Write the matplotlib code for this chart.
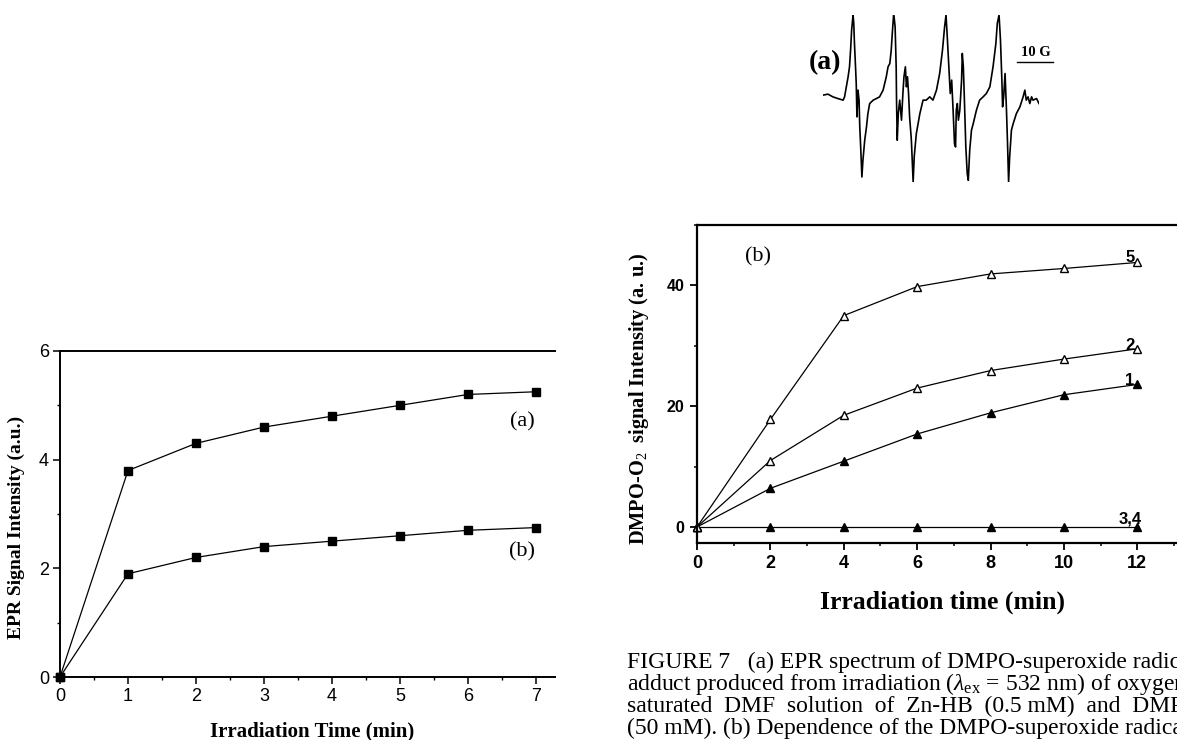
import numpy as np
import matplotlib
matplotlib.use('Agg')
from matplotlib import pyplot as plt
from matplotlib.ticker import MultipleLocator

plt.rcParams['mathtext.fontset'] = 'custom'
plt.rcParams['mathtext.rm'] = 'Liberation Serif'
plt.rcParams['mathtext.it'] = 'Liberation Serif:italic'
plt.rcParams['mathtext.bf'] = 'Liberation Serif:bold'

SERIF = 'Liberation Serif'
SANS = 'Liberation Sans'

# EPR signal vs irradiation time, two samples
epr_time = [0, 1, 2, 3, 4, 5, 6, 7]
epr_a = [0, 3.8, 4.3, 4.6, 4.8, 5.0, 5.2, 5.25]
epr_b = [0, 1.9, 2.2, 2.4, 2.5, 2.6, 2.7, 2.75]

# DMPO-O2 adduct intensity vs irradiation time
dmpo_time = [0, 2, 4, 6, 8, 10, 12]
dmpo_1 = [0, 6.4, 10.9, 15.4, 18.9, 21.9, 23.6]
dmpo_2 = [0, 11.0, 18.5, 23.0, 25.9, 27.8, 29.5]
dmpo_34 = [0, 0, 0, 0, 0, 0, 0]
dmpo_5 = [0, 17.8, 35.0, 39.8, 41.9, 42.8, 43.8]

# EPR spectrum trace of the DMPO-superoxide adduct (field in G, signal a.u.)
field_G = [0.0, 1.4, 2.8, 4.2, 5.7, 6.1, 6.6, 7.1, 7.5, 7.8, 8.1, 8.5, 8.7, 8.9,
           9.2, 9.4, 9.6, 9.9, 10.2, 10.4, 10.7, 11.0, 11.3, 11.8, 12.3, 12.7,
           13.2, 14.2, 15.1, 16.0, 17.0, 17.9, 18.4, 18.9, 19.3, 19.6, 20.0,
           20.4, 20.7, 20.8, 21.0, 21.3, 21.7, 22.2, 22.6, 22.9, 23.3, 23.6,
           23.9, 24.2, 24.5, 25.0, 25.5, 25.8, 26.4, 27.4, 28.3, 29.2, 30.2,
           31.1, 32.1, 33.0, 33.8, 34.4, 34.8, 35.2, 35.6, 36.0, 36.4, 36.8,
           37.2, 37.5, 37.7, 38.0, 38.3, 38.7, 39.2, 39.4, 39.7, 40.0, 40.4,
           40.8, 41.1, 41.5, 42.0, 42.5, 43.4, 44.3, 45.3, 46.2, 47.2, 48.1,
           48.9, 49.3, 49.8, 50.2, 50.6, 50.8, 51.1, 51.5, 51.9, 52.2, 52.5,
           52.8, 53.3, 53.8, 54.7, 55.7, 56.6, 57.1, 57.5, 58.0, 58.5, 59.0,
           59.4, 60.4, 61.1]
signal = [1.7, 2.7, 0, -1.7, -3.3, 0, 10, 20, 30, 46.7, 66.7, 81.7, 73.3, 53.3,
          30, 13.3, -20, 6.7, -3.3, -30, -53.3, -80, -63.3, -43.3, -30, -16.7,
          -6.7, -3.3, -1.7, 0, 6.7, 20, 30, 33.3, 46.7, 63.3, 83.3,
          70, 30, -3.3, -43.3, -16.7, -3.3, -23.3, 3.3, 20, 30, 10,
          20, 3.3, -20, -43.3, -85, -60, -36.7, -16.7, -3.3, -3.3, 0,
          -3.3, 6.7, 23.3, 46.7, 70, 81.7, 56.7, 30, 3.3, 16.7, -13.3,
          -46.7, -50, -13.3, -6.7, -23.3, -13.3, 16.7, 43.3, 30, -3.3, -50,
          -76.7, -83.3, -53.3, -33.3, -26.7, -13.3, -3.3, 0, 3.3, 10, 30,
          53.3, 73.3, 81.7, 56.7, 16.7, -10, 0, 23.3, -13.3, -46.7, -85,
          -60, -33.3, -26.7, -16.7, -10, 0, 6.7, -3.3, 0, -6.7, 0,
          -3.3, -1.7, -6.7]

W, H = 1177, 740
fig = plt.figure(figsize=(W / 100, H / 100), dpi=100)


def box(x0, y0, x1, y1):
    # pixel box (top-left origin) -> figure fraction rect
    return [x0 / W, 1 - y1 / H, (x1 - x0) / W, (y1 - y0) / H]


# ---- left panel: EPR signal intensity
ax1 = fig.add_axes(box(60, 351, 555, 677))
ax1.plot(epr_time, epr_a, 'k-', lw=0.9, marker='s', ms=6, clip_on=False)
ax1.plot(epr_time, epr_b, 'k-', lw=0.9, marker='s', ms=6, clip_on=False)
ax1.set_xlim(0, 7.28)
ax1.set_ylim(0, 6)
ax1.set_xticks(range(0, 8))
ax1.set_yticks([0, 2, 4, 6])
ax1.xaxis.set_minor_locator(MultipleLocator(0.5))
ax1.yaxis.set_minor_locator(MultipleLocator(1))
ax1.spines['right'].set_visible(False)
for s in ['left', 'bottom', 'top']:
    ax1.spines[s].set_linewidth(1.4)
ax1.tick_params(which='major', direction='out', length=5, width=1.1,
                labelsize=13, pad=3)
ax1.tick_params(which='minor', direction='out', length=2.5, width=1)
ax1.tick_params(top=False, right=False, which='both')
for lab in ax1.get_xticklabels() + ax1.get_yticklabels():
    lab.set_family(SANS)
ax1.set_xlabel('Irradiation Time (min)', family=SERIF, fontweight='bold', fontsize=15)
ax1.set_ylabel('EPR Signal Intensity (a.u.)', family=SERIF, fontweight='bold', fontsize=14)
ax1.xaxis.set_label_coords(0.509, -0.135)
ax1.yaxis.set_label_coords(-0.07, 0.46)
ax1.text(6.8, 4.7, '(a)', family=SERIF, fontsize=16, ha='center', va='center')
ax1.text(6.8, 2.3, '(b)', family=SERIF, fontsize=16, ha='center', va='center')

# ---- right panel: DMPO-O2 adduct signal
ax2 = fig.add_axes(box(697, 225, 1185, 542.7))
ax2.plot(dmpo_time, dmpo_1, 'k-', lw=0.9, marker='^', ms=6, mfc='k', clip_on=False)
ax2.plot(dmpo_time, dmpo_2, 'k-', lw=0.9, marker='^', ms=6, mfc='white', clip_on=False)
ax2.plot(dmpo_time, dmpo_34, 'k-', lw=0.9, marker='^', ms=6, mfc='k', clip_on=False)
ax2.plot(dmpo_time, dmpo_5, 'k-', lw=0.9, marker='^', ms=6, mfc='white', clip_on=False)
ax2.set_xlim(0, 13.3)
ax2.set_ylim(-2.6, 50)
ax2.set_xticks(range(0, 13, 2))
ax2.set_yticks([0, 20, 40])
ax2.xaxis.set_minor_locator(MultipleLocator(1))
ax2.yaxis.set_minor_locator(MultipleLocator(10))
for s in ['left', 'bottom', 'top']:
    ax2.spines[s].set_linewidth(1.6)
ax2.tick_params(which='major', direction='out', length=5, width=1.3, pad=4)
ax2.tick_params(which='minor', direction='out', length=2.5, width=1.1)
ax2.tick_params(top=False, right=False, which='both')
ax2.tick_params(axis='x', labelsize=13)
ax2.tick_params(axis='y', labelsize=11.5)
for lab in ax2.get_xticklabels() + ax2.get_yticklabels():
    lab.set_family(SANS)
    lab.set_fontweight('bold')
ax2.set_xlabel('Irradiation time (min)', family=SERIF, fontweight='bold', fontsize=18.5)
ax2.set_ylabel(r'DMPO-O$_{2}$  signal Intensity (a. u.)', family=SERIF,
               fontweight='bold', fontsize=14.7)
ax2.xaxis.set_label_coords(0.504, -0.15)
ax2.yaxis.set_label_coords(-0.094, 0.452)
ax2.text(1.65, 44.7, '(b)', family=SERIF, fontsize=16, ha='center', va='center')
for name, yv in [('5', 44.6), ('2', 30.0), ('1', 24.2), ('3,4', 1.4)]:
    ax2.text(11.8, yv, name, family=SANS, fontweight='bold', fontsize=12,
             ha='center', va='center')

# ---- inset: EPR spectrum
ax3 = fig.add_axes(box(823, 15, 1039, 182))
ax3.plot(field_G, signal, 'k-', lw=1.2)
ax3.set_xlim(0, 61.1)
ax3.set_ylim(-85, 81.7)
ax3.axis('off')
ax3.plot([55.0, 65.2], [35, 35], 'k-', lw=1, clip_on=False)
ax3.text(60.1, 38, '10 G', family=SERIF, fontweight='bold', fontsize=10.5,
         ha='center', va='bottom', clip_on=False)
ax3.text(0.5, 34, '(a)', family=SERIF, fontweight='bold', fontsize=20,
         ha='center', va='center', clip_on=False)

# ---- caption (runs past the right edge of the page)
caption = [
    'FIGURE 7   (a) EPR spectrum of DMPO-superoxide radical',
    r'adduct produced from irradiation ($\lambda_{\rm ex}$ = 532 nm) of oxygen-',
    'saturated  DMF  solution  of  Zn-HB  (0.5 mM)  and  DMPO',
    '(50 mM). (b) Dependence of the DMPO-superoxide radical',
]
for i, line in enumerate(caption):
    fig.text(627 / W, 1 - (662 + 22 * i) / H, line, family=SERIF, fontsize=17,
             ha='left', va='center')

fig.savefig('out.png', dpi=100)
